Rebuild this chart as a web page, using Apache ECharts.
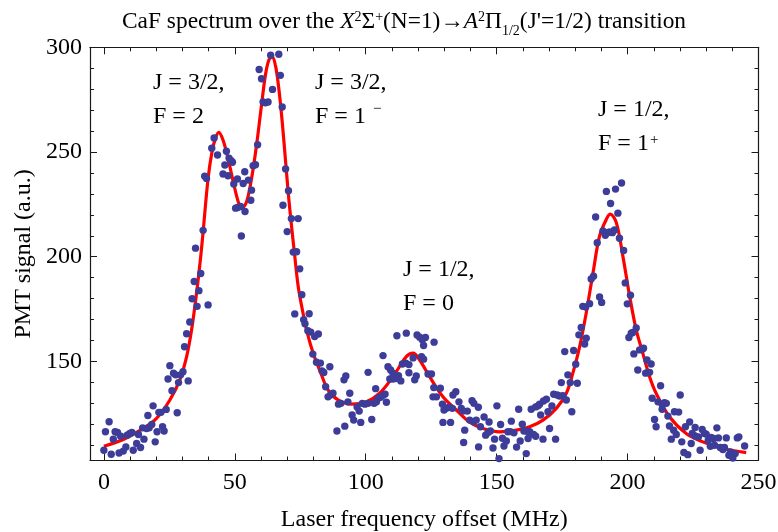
<!DOCTYPE html>
<html><head><meta charset="utf-8">
<script src="https://cdn.jsdelivr.net/npm/echarts@6/dist/echarts.min.js"></script>
<style>html,body{margin:0;padding:0;background:#fff}#c{width:778px;height:532px}</style>
</head><body><div id="c"></div>
<script>
// ---- data ----
const xTickLabels = [0, 50, 100, 150, 200, 250];
const yTickLabels = [150, 200, 250, 300];
const xRange = [-5.3, 250];
const yRange = [102.7, 300];

// measured points: [laser frequency offset (MHz), PMT signal (a.u.)]
const scanPoints = [
[0.0,107.6],[0.6,116.4],[2.0,121.2],[2.8,105.7],[3.6,112.9],[4.3,116.4],[5.2,116.1],[5.8,106.3],[6.4,114.3],[7.4,107.2],
[8.4,109.2],[8.9,114.8],[9.9,115.6],[10.7,116.1],[11.2,107.6],[12.5,110.8],[13.2,115.1],[14.0,108.9],[14.8,118.3],[15.3,112.9],
[16.3,118.0],[16.8,124.2],[17.3,118.3],[18.3,119.9],[18.8,128.8],[19.6,111.6],[20.3,116.4],[21.0,125.7],[21.8,125.7],[22.4,118.8],
[23.0,116.8],[23.8,127.1],[24.5,141.6],[25.2,148.0],[26.0,136.0],[26.6,144.4],[27.4,143.6],[28.0,125.5],[28.5,139.9],[29.3,143.6],
[30.2,145.1],[30.8,157.0],[31.6,163.2],[32.2,140.7],[32.8,168.8],[33.7,179.9],[34.5,188.2],[35.0,204.1],[35.6,176.3],[36.3,183.8],
[37.0,192.0],[37.9,212.6],[39.8,177.0],
[38.5,238.4],[39.2,237.4],[41.2,251.8],[42.1,256.7],[43.4,248.6],[45.5,239.5],[46.2,243.8],[46.8,250.4],[47.4,238.7],[47.8,247.1],
[48.6,245.9],[49.1,245.1],[49.6,234.7],[50.3,223.2],[51.0,237.1],[51.1,223.5],[52.2,224.0],[52.5,209.9],[53.2,235.0],[53.8,240.6],
[53.9,221.6],[55.2,236.6],[56.1,227.0],[56.4,231.8],[57.0,243.5],[57.9,243.9],[58.7,253.5],[59.3,289.4],[60.2,285.0],[60.8,273.9],
[61.7,273.5],[62.7,273.9],[63.7,296.2],[64.4,279.9],[66.8,296.7],[67.4,286.6],[68.1,271.5],[68.4,224.6],[69.4,241.9],[70.0,212.0],
[70.5,231.5],[71.6,218.2],[74.2,218.2],
[72.3,202.2],[73.6,202.4],[74.8,194.2],[75.6,181.9],[72.9,172.7],[76.3,169.9],[76.8,168.0],[78.4,172.8],[77.9,164.7],[79.0,164.0],
[80.5,161.9],[81.9,163.1],[79.8,153.5],[81.2,149.6],[82.7,149.2],[83.3,145.5],[84.0,144.7],[86.3,147.5],[84.7,137.9],[85.6,133.1],
[86.5,134.0],[87.5,134.8],[89.6,129.6],[90.5,130.0],[91.7,141.2],[92.4,143.1],[89.0,116.8],[92.0,119.1],[93.2,130.7],[93.9,134.8],
[94.8,124.4],[95.4,122.0],[96.7,128.3],[97.5,126.3],[98.1,120.9],[98.7,130.0],[99.7,129.6],[100.9,130.0],[100.9,144.8],[102.3,122.3],
[103.2,130.0],[104.1,130.7],[104.7,132.4],[105.7,132.9],[106.6,133.8],[107.4,134.4],[103.8,137.0],[107.9,130.5],[106.6,152.8],[108.5,147.5],
[109.5,145.9],[110.4,144.4],[109.2,141.6],[110.4,141.6],[111.5,141.8],[112.5,143.2],[113.4,140.7],[111.9,162.3],[114.0,148.8],[115.3,149.2],
[116.5,148.5],[115.5,163.5],[116.5,144.6],[118.1,151.7],[118.7,141.2],[119.3,143.1],[119.6,162.6],[120.6,161.6],[121.6,160.3],[122.1,157.6],
[122.8,161.4],[126.1,159.2],[121.3,152.3],[122.1,151.1],[123.8,144.0],[125.1,144.0],[126.0,137.5],[127.0,133.1],[128.5,137.2],[125.7,133.1],
[129.3,129.6],[129.9,126.8],[130.8,127.6],[131.8,128.1],[133.1,127.6],[133.3,134.0],[134.4,135.5],[129.5,120.9],[132.4,120.9],[135.6,130.7],
[136.5,127.6],[137.1,126.3],[137.8,117.2],[137.4,111.3],[138.8,126.3],[140.6,131.2],[141.3,130.0],[139.7,122.0],[141.2,121.2],[142.2,122.0],
[143.1,109.2],
[143.0,128.1],[143.8,118.8],[145.2,123.5],[145.8,114.8],[146.7,116.1],[147.6,116.8],[147.1,121.1],[148.6,108.7],[149.2,112.9],[150.1,128.8],
[150.9,103.6],[151.5,119.9],[152.2,113.3],[152.8,109.6],[153.7,112.0],[154.3,116.4],[155.2,116.5],[156.6,115.9],[155.6,121.5],[157.6,109.1],
[158.4,127.2],[159.0,112.0],[159.8,120.0],[160.4,116.8],[161.6,116.7],[162.6,116.4],[161.3,106.0],[162.0,113.2],[163.2,127.2],[164.1,115.1],
[164.9,114.3],[164.9,128.3],[165.8,128.8],[166.4,129.6],[166.8,124.4],[167.7,112.9],[167.9,131.1],[169.0,132.0],[169.6,126.0],[170.2,118.0],
[171.1,128.7],[171.8,134.3],[173.1,134.0],[174.0,133.5],[175.3,133.6],[172.5,112.9],[176.6,131.6],[174.7,139.9],[176.0,154.7],[177.2,143.6],
[178.1,139.9],[178.7,126.0],[179.4,155.2],[180.2,148.7],[180.8,139.6],[181.4,162.7],[182.3,166.2],[183.6,158.3],[184.2,161.1],[182.9,176.3],
[184.0,176.0],[185.5,177.6],[186.1,189.4],[187.0,190.7],[187.8,219.0],[188.4,206.7],[189.3,180.8],[190.1,178.2],[190.6,212.3],[191.5,210.2],
[192.2,211.5],[193.1,211.8],[194.2,211.5],[195.0,212.8],[193.5,225.4],[196.3,220.8],[196.9,208.8],[198.5,203.0],[199.1,187.5],[199.9,177.5],
[191.9,231.2],[195.4,232.3],[197.7,235.2],
[200.5,161.4],[201.4,163.5],[201.1,181.6],[202.0,163.8],[203.3,166.0],[202.4,153.6],[203.9,145.9],[204.6,155.5],[205.6,155.8],[206.1,156.3],
[206.9,144.4],[207.8,144.7],[208.4,144.8],[207.4,150.7],[209.0,148.8],[209.4,132.4],[210.3,122.3],[210.9,118.8],[211.6,130.7],[212.6,138.4],
[213.2,129.5],[214.1,130.3],[214.8,130.0],[213.2,127.2],[215.4,123.9],[216.0,119.2],[216.7,112.9],[217.6,117.2],[218.6,115.1],[217.9,126.0],
[219.5,125.8],[220.1,134.0],[220.7,111.6],[221.5,106.5],[223.0,105.5],[222.1,118.8],[223.7,121.1],[224.3,110.8],[224.7,115.6],[225.8,114.4],
[227.1,114.0],[225.8,118.5],[227.7,107.6],[228.5,117.5],[229.4,115.6],[230.0,115.3],[230.8,112.4],[231.6,109.5],[233.2,110.0],[231.9,113.7],
[232.9,113.2],[234.1,118.3],[234.7,113.5],[235.4,108.9],[236.4,107.9],[237.0,108.9],[237.7,113.5],[238.7,105.2],[239.3,106.8],[240.2,103.9],
[241.1,106.0],[241.9,113.5],[242.5,114.0],[244.7,109.6]
];

// fitted curve
const fitCurve = [
[0,109.5],[7.4,112.7],[15.0,118.0],[20.1,122.8],[25.2,131.6],[29.0,141.2],[31.6,152.3],[33.5,165.1],[35.4,182.7],[37.0,200.3],
[37.9,211.9],[39.8,237.4],[41.3,250.1],[42.6,256.5],[43.9,259.4],[45.5,255.7],[47.4,247.0],[49.4,235.8],[51.3,226.3],[52.6,223.1],
[54.5,226.3],[56.4,237.4],[58.3,253.3],[60.2,272.4],[61.7,286.8],[63.0,293.9],[64.2,295.5],[65.5,291.5],[66.8,280.4],[68.1,264.5],
[69.4,245.4],[70.6,227.9],[71.9,211.9],[72.9,200.3],[74.2,185.9],[75.8,174.7],[77.4,165.1],[79.9,154.0],[82.4,145.9],[85.6,136.4],
[89.4,131.6],[94.5,129.6],[100.3,130.7],[105.3,134.8],[110.4,142.7],[115.5,152.3],[118.1,154.0],[120.6,150.7],[124.4,142.7],[129.5,133.1],
[134.6,126.8],[139.7,121.0],[144.8,118.0],[151.1,116.4],[157.5,117.2],[162.6,118.8],[167.7,122.0],[172.8,127.6],[176.6,134.8],[179.1,144.4],
[181.7,157.1],[184.2,173.1],[186.8,192.3],[189.3,209.9],[191.9,217.9],[193.4,220.3],[195.7,216.3],[198.2,200.3],[200.8,181.1],[203.3,165.1],
[205.8,154.0],[208.4,142.7],[210.9,134.8],[216.0,123.6],[222.4,115.6],[228.7,111.6],[236.4,108.4],[245.3,106.5]
];

const peakLabels = [
  { lines: ['J = 3/2,', 'F = 2'], sup: '' },
  { lines: ['J = 3/2,', 'F = 1 '], sup: '−' },
  { lines: ['J = 1/2,', 'F = 0'], sup: '' },
  { lines: ['J = 1/2,', 'F = 1'], sup: '+' }
];

// ---- chart ----
const FONT = '"Liberation Serif", "Times New Roman", serif';
const INK = '#1a1a1a';
const chart = echarts.init(document.getElementById('c'), null, { renderer: 'canvas' });

function xAxisDef(pos, step, len, labels, line, name) {
  return {
    type: 'value', min: xRange[0], max: xRange[1], position: pos,
    minInterval: step, maxInterval: step, splitNumber: 30,
    axisLine: { show: line, onZero: false, lineStyle: { color: INK, width: 1.2 } },
    axisTick: { show: true, inside: true, length: len, lineStyle: { color: INK, width: 1 } },
    axisLabel: { show: labels, margin: 10, color: '#000', fontFamily: FONT, fontSize: 24,
      formatter: v => (xTickLabels.indexOf(Math.round(v * 1000) / 1000) >= 0 ? String(v) : '') },
    splitLine: { show: false },
    name: name || '', nameLocation: 'middle', nameGap: 47,
    nameTextStyle: { color: '#000', fontFamily: FONT, fontSize: 24 }
  };
}
function yAxisDef(pos, step, len, labels, line, name) {
  return {
    type: 'value', min: yRange[0], max: yRange[1], position: pos,
    minInterval: step, maxInterval: step, splitNumber: 30,
    axisLine: { show: line, onZero: false, lineStyle: { color: INK, width: 1.2 } },
    axisTick: { show: true, inside: true, length: len, lineStyle: { color: INK, width: 1 } },
    axisLabel: { show: labels, margin: 8, color: '#000', fontFamily: FONT, fontSize: 24,
      formatter: v => (yTickLabels.indexOf(Math.round(v * 1000) / 1000) >= 0 ? String(v) : '') },
    splitLine: { show: false },
    name: name || '', nameLocation: 'middle', nameGap: 54, nameRotate: 90,
    nameTextStyle: { color: '#000', fontFamily: FONT, fontSize: 24 }
  };
}

function annotation(item, x, y, supPad) {
  const txt = '{n|' + item.lines[0] + '}\n{n|' + item.lines[1] + '}' + (item.sup ? '{s|' + item.sup + '}' : '');
  return {
    type: 'text', x: x, y: y, silent: true,
    style: {
      text: txt, fill: '#000', verticalAlign: 'top', align: 'left',
      rich: {
        n: { fontFamily: FONT, fontSize: 24, lineHeight: 33.5, fill: '#000', color: '#000' },
        s: { fontFamily: FONT, fontSize: 15, lineHeight: 15, verticalAlign: 'top', padding: [supPad, 0, 0, 1], fill: '#000', color: '#000' }
      }
    }
  };
}

chart.setOption({
  backgroundColor: '#fff',
  animation: false,
  title: {
    text: '{t|CaF spectrum over the }{i|X}{p|2}{t|Σ}{p|+}{t|(N=1)→}{i|A}{p|2}{t|Π}{b|1/2}{t|(J\'=1/2) transition}',
    left: 117, top: 1,
    textStyle: {
      fontWeight: 'normal',
      rich: {
        t: { fontFamily: FONT, fontSize: 23.4, lineHeight: 32, fontWeight: 'normal', color: '#000' },
        i: { fontFamily: FONT, fontSize: 23.4, lineHeight: 32, fontWeight: 'normal', fontStyle: 'italic', color: '#000' },
        p: { fontFamily: FONT, fontSize: 14, lineHeight: 14, fontWeight: 'normal', verticalAlign: 'top', padding: [4, 0, 0, 0], color: '#000' },
        b: { fontFamily: FONT, fontSize: 14, lineHeight: 14, fontWeight: 'normal', verticalAlign: 'bottom', padding: [0, 0, 0, 0], color: '#000' }
      }
    }
  },
  grid: { left: 90, right: 19.5, top: 47.3, bottom: 71.5, containLabel: false, outerBoundsMode: 'none' },
  xAxis: [
    xAxisDef('bottom', 10, 4, false, true, 'Laser frequency offset (MHz)'),
    xAxisDef('bottom', 50, 7, true, false),
    xAxisDef('top', 10, 4, false, true),
    xAxisDef('top', 50, 7, false, false)
  ],
  yAxis: [
    yAxisDef('left', 10, 4, false, true, 'PMT signal (a.u.)'),
    yAxisDef('left', 50, 7, true, false),
    yAxisDef('right', 10, 4, false, true),
    yAxisDef('right', 50, 7, false, false)
  ],
  series: [
    {
      type: 'line', name: 'fit', data: fitCurve, xAxisIndex: 0, yAxisIndex: 0,
      smooth: 0.35, showSymbol: false, symbol: 'none', z: 2,
      lineStyle: { color: '#ff0000', width: 3.2 }, clip: true
    },
    {
      type: 'scatter', name: 'data', data: scanPoints, xAxisIndex: 0, yAxisIndex: 0,
      symbol: 'circle', symbolSize: 7.4, z: 3, clip: true,
      itemStyle: { color: '#3d3d99', opacity: 1 }
    }
  ],
  graphic: [
    annotation(peakLabels[0], 153, 66, 0),
    annotation(peakLabels[1], 315, 66, 2),
    annotation(peakLabels[2], 403, 253, 0),
    annotation(peakLabels[3], 598, 93, 6)
  ]
});
</script></body></html>
